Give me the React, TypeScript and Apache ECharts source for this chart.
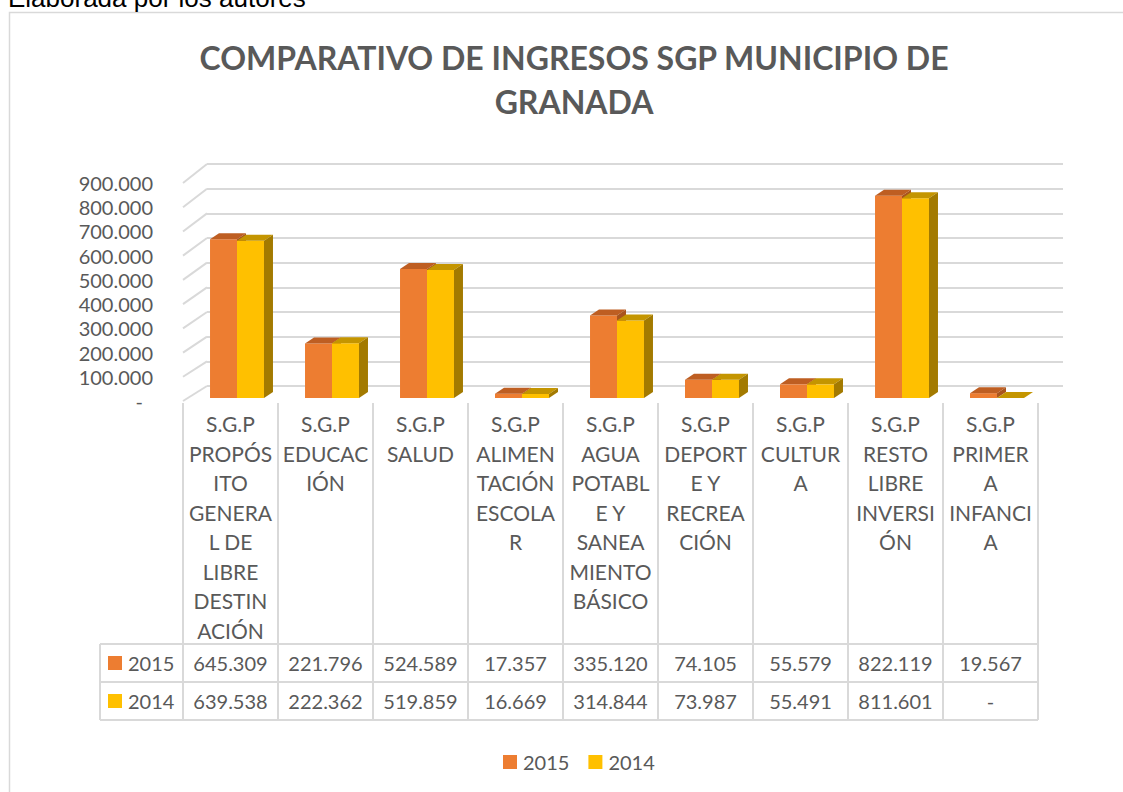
import React, { useEffect, useRef } from "react";
import * as echarts from "echarts";

const categoryLabels = [
  "S.G.P\nPROPÓS\nITO\nGENERA\nL DE\nLIBRE\nDESTIN\nACIÓN",
  "S.G.P\nEDUCAC\nIÓN",
  "S.G.P\nSALUD",
  "S.G.P\nALIMEN\nTACIÓN\nESCOLA\nR",
  "S.G.P\nAGUA\nPOTABL\nE Y\nSANEA\nMIENTO\nBÁSICO",
  "S.G.P\nDEPORT\nE Y\nRECREA\nCIÓN",
  "S.G.P\nCULTUR\nA",
  "S.G.P\nRESTO\nLIBRE\nINVERSI\nÓN",
  "S.G.P\nPRIMER\nA\nINFANCI\nA",
];
const seriesNames = ["2015", "2014"];
const values2015 = [645309, 221796, 524589, 17357, 335120, 74105, 55579, 822119, 19567];
const values2014 = [639538, 222362, 519859, 16669, 314844, 73987, 55491, 811601, 0];
const yTicks = [0, 100000, 200000, 300000, 400000, 500000, 600000, 700000, 800000, 900000];
const yMax = 900000;
const yInterval = 100000;

const FONT = "Lato";
const TXT = "#595959";
const GRID_LINE = "#D9D9D9";
const COLORS = {
  "2015": { front: "#ED7D31", top: "#BE5E22", side: "#A9541D" },
  "2014": { front: "#FFC000", top: "#C49500", side: "#A37A00" },
};

const fmt = (v: number) =>
  v === 0 ? "-" : Math.round(v).toString().replace(/\B(?=(\d{3})+(?!\d))/g, ".");

function bar3d(offsetIdx: number, c: { front: string; top: string; side: string }) {
  return (params: any, api: any) => {
    const p = api.coord([api.value(0), api.value(1)]);
    const b = api.coord([api.value(0), 0]);
    const bw = api.size([1, 0])[0] * 0.284;
    const x0 = p[0] + offsetIdx * bw;
    const x1 = x0 + bw;
    const yT = p[1];
    const yB = b[1];
    const dx = 9;
    const dy = 6;
    return {
      type: "group",
      children: [
        { type: "rect", shape: { x: x0, y: yT, width: bw, height: yB - yT }, style: { fill: c.front } },
        {
          type: "polygon",
          shape: { points: [[x0, yT], [x1, yT], [x1 + dx, yT - dy], [x0 + dx, yT - dy]] },
          style: { fill: c.top },
        },
        {
          type: "polygon",
          shape: { points: [[x1, yT], [x1 + dx, yT - dy], [x1 + dx, yB - dy], [x1, yB]] },
          style: { fill: c.side },
        },
      ],
    };
  };
}

function cellText(params: any, api: any) {
  const p = api.coord([api.value(0), api.value(1)]);
  return {
    type: "text",
    x: p[0],
    y: p[1],
    style: {
      text: fmt(api.value(2)),
      fill: TXT,
      fontSize: 20,
      fontFamily: FONT,
      align: "center",
      verticalAlign: "middle",
    },
  };
}

function diagonal(params: any, api: any) {
  const y = api.coord([0, api.value(0)])[1];
  const xb = params.coordSys.x;
  const dy = 15 + (4 * api.value(0)) / yMax;
  return {
    type: "line",
    shape: { x1: xb - 24, y1: y + dy, x2: xb, y2: y },
    style: { stroke: GRID_LINE, lineWidth: 2 },
  };
}

export default function App() {
  const ref = useRef<HTMLDivElement>(null);
  useEffect(() => {
    if (!ref.current) return;
    const chart = echarts.init(ref.current, undefined, { renderer: "svg" });
    const hidden = { show: false };
    const splitCfg = { show: true, lineStyle: { color: GRID_LINE, width: 2 } };
    const option: any = {
      animation: false,
      backgroundColor: "#ffffff",
      textStyle: { fontFamily: FONT },
      graphic: [
        {
          type: "rect",
          shape: { x: 9.5, y: 12.5, width: 1200, height: 900 },
          style: { fill: "none", stroke: GRID_LINE, lineWidth: 1.5 },
          z: -10,
        },
        {
          type: "text",
          x: 8,
          y: -2,
          style: {
            text: "Elaborada por los autores",
            fill: "#000000",
            fontSize: 26,
            fontFamily: "Liberation Sans",
            align: "left",
            verticalAlign: "middle",
          },
        },
        {
          type: "text",
          x: 574,
          y: 35,
          style: {
            text: "COMPARATIVO DE INGRESOS SGP MUNICIPIO DE\nGRANADA",
            fill: TXT,
            fontSize: 32,
            fontWeight: "bold",
            fontFamily: FONT,
            lineHeight: 44,
            align: "center",
            verticalAlign: "top",
          },
        },
      ],
      legend: {
        data: seriesNames,
        left: 503,
        top: 752,
        padding: 0,
        itemWidth: 14,
        itemHeight: 14,
        itemGap: 19,
        icon: "rect",
        textStyle: { fontSize: 20, fontFamily: FONT, color: TXT, padding: [0, 0, 0, 1] },
      },
      grid: [
        { left: 183, top: 183, width: 855, height: 218 },
        { left: 189.5, top: 176.6, width: 855, height: 221.4 },
        { left: 207, top: 164, width: 856, height: 222 },
        { left: 183, top: 403, width: 855, height: 241 },
        { left: 183, top: 644, width: 855, height: 76 },
        { left: 100, top: 644, width: 83, height: 76 },
      ],
      xAxis: [
        {
          gridIndex: 0,
          type: "category",
          data: categoryLabels,
          axisLine: hidden,
          axisTick: hidden,
          axisLabel: {
            interval: 0,
            margin: 8,
            fontSize: 21,
            lineHeight: 29.5,
            color: TXT,
            fontFamily: FONT,
            align: "center",
          },
        },
        { gridIndex: 1, type: "category", data: categoryLabels, show: false },
        { gridIndex: 2, type: "category", data: categoryLabels, show: false },
        {
          gridIndex: 3,
          type: "category",
          data: categoryLabels,
          axisLine: hidden,
          axisTick: hidden,
          axisLabel: hidden,
          splitLine: splitCfg,
        },
        {
          gridIndex: 4,
          type: "category",
          data: categoryLabels,
          axisLine: hidden,
          axisTick: hidden,
          axisLabel: hidden,
          splitLine: splitCfg,
        },
        {
          gridIndex: 5,
          type: "category",
          data: ["key"],
          axisLine: hidden,
          axisTick: hidden,
          axisLabel: hidden,
          splitLine: splitCfg,
        },
      ],
      yAxis: [
        {
          gridIndex: 0,
          type: "value",
          min: 0,
          max: yMax,
          interval: yInterval,
          axisLine: hidden,
          axisTick: hidden,
          splitLine: hidden,
          axisLabel: {
            margin: 30,
            fontSize: 20,
            color: TXT,
            fontFamily: FONT,
            formatter: (v: number) => (v === 0 ? "{d|-}" : fmt(v)),
            rich: { d: { fontSize: 20, color: TXT, fontFamily: FONT, padding: [0, 10, 0, 0] } },
          },
        },
        { gridIndex: 1, type: "value", min: 0, max: yMax, show: false },
        {
          gridIndex: 2,
          type: "value",
          min: 0,
          max: yMax,
          interval: yInterval,
          axisLine: hidden,
          axisTick: hidden,
          axisLabel: hidden,
          splitLine: splitCfg,
        },
        { gridIndex: 3, type: "value", show: false },
        {
          gridIndex: 4,
          type: "category",
          data: seriesNames,
          inverse: true,
          axisLine: hidden,
          axisTick: hidden,
          axisLabel: hidden,
          splitLine: splitCfg,
        },
        {
          gridIndex: 5,
          type: "category",
          data: seriesNames,
          inverse: true,
          axisLine: hidden,
          axisTick: hidden,
          splitLine: splitCfg,
          axisLabel: {
            inside: true,
            margin: 8,
            formatter: (v: string) => `{s${v}|}{t|${v}}`,
            rich: {
              s2015: { width: 14, height: 14, backgroundColor: COLORS["2015"].front },
              s2014: { width: 14, height: 14, backgroundColor: COLORS["2014"].front },
              t: { fontSize: 20, color: TXT, fontFamily: FONT, padding: [0, 0, 0, 6] },
            },
          },
        },
      ],
      series: [
        {
          name: "2015",
          type: "custom",
          xAxisIndex: 1,
          yAxisIndex: 1,
          itemStyle: { color: COLORS["2015"].front },
          renderItem: bar3d(-1, COLORS["2015"]),
          data: values2015.map((v, i) => [i, v]),
          z: 3,
        },
        {
          name: "2014",
          type: "custom",
          xAxisIndex: 1,
          yAxisIndex: 1,
          itemStyle: { color: COLORS["2014"].front },
          renderItem: bar3d(0, COLORS["2014"]),
          data: values2014.map((v, i) => [i, v]),
          z: 4,
        },
        {
          type: "custom",
          xAxisIndex: 2,
          yAxisIndex: 2,
          renderItem: diagonal,
          data: yTicks.map((v) => [v]),
          encode: { y: 0 },
          z: 1,
          silent: true,
        },
        {
          type: "custom",
          xAxisIndex: 4,
          yAxisIndex: 4,
          renderItem: cellText,
          data: values2015.map((v, i) => [i, 0, v]),
          silent: true,
        },
        {
          type: "custom",
          xAxisIndex: 4,
          yAxisIndex: 4,
          renderItem: cellText,
          data: values2014.map((v, i) => [i, 1, v]),
          silent: true,
        },
      ],
    };
    chart.setOption(option);
    return () => chart.dispose();
  }, []);
  return (
    <div
      ref={ref}
      style={{ position: "absolute", left: 0, top: 0, width: 1123, height: 792 }}
    />
  );
}
